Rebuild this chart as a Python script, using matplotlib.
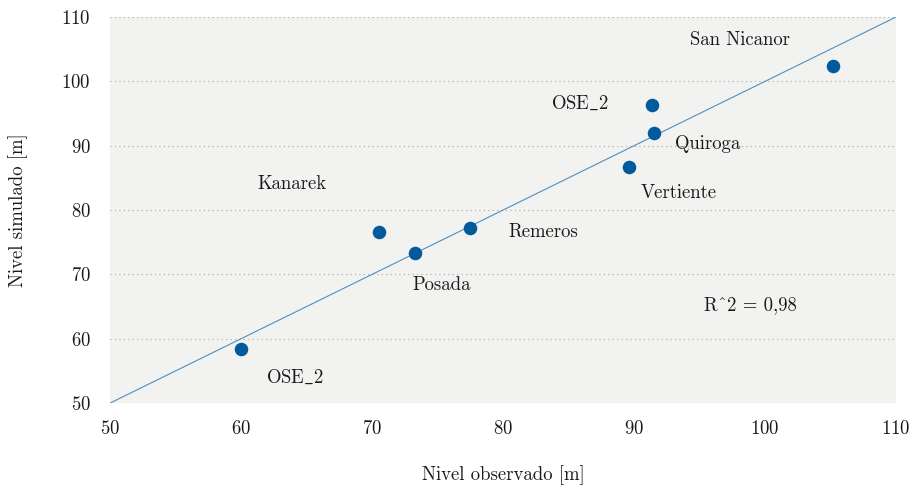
import matplotlib
matplotlib.use("Agg")
import matplotlib.pyplot as plt

plt.rcParams['font.family'] = ['cmr10', 'DejaVu Serif']
plt.rcParams['mathtext.fontset'] = 'cm'
plt.rcParams['axes.formatter.use_mathtext'] = True

# observed vs simulated levels [m]
observado = [60.0, 70.5, 73.3, 77.5, 89.6, 91.5, 91.4, 105.2]
simulado = [58.4, 76.6, 73.3, 77.2, 86.7, 92.0, 96.3, 102.4]

# label text and where it sits
etiquetas = ['OSE$\\_$2', 'Kanarek', 'Posada', 'Remeros', 'Vertiente', 'Quiroga', 'OSE$\\_$2', 'San Nicanor']
etiq_x = [64.1, 63.9, 75.3, 83.1, 93.4, 95.6, 85.9, 98.1]
etiq_y = [54.0, 84.1, 68.3, 76.6, 82.6, 90.3, 96.5, 106.4]

r2_texto = 'R^2 = 0,98'
r2_pos = (98.9, 65.2)

linea = [50, 110]

fs = 13.5

fig = plt.figure(figsize=(9.17, 4.88), dpi=100)
ax = fig.add_axes([0.12, 0.174, 0.857, 0.791])
ax.set_facecolor('#f2f2f1')

for s in ax.spines.values():
    s.set_visible(False)

ax.yaxis.grid(True, linestyle=(0, (1, 3)), color='#a8a8a8', linewidth=0.8)
ax.set_axisbelow(True)

ax.plot(linea, linea, color='#4f8fc0', linewidth=0.8, zorder=2)
ax.scatter(observado, simulado, s=95, color='#005a9c', zorder=3, linewidths=0)

for t, x, y in zip(etiquetas, etiq_x, etiq_y):
    ax.text(x, y, t, ha='center', va='center', fontsize=fs, color='#1a1a1a')
ax.text(r2_pos[0], r2_pos[1], r2_texto, ha='center', va='center', fontsize=fs, color='#1a1a1a')

ax.set_xlim(50, 110)
ax.set_ylim(50, 110)
ax.set_xticks(range(50, 111, 10))
ax.set_yticks(range(50, 111, 10))
ax.tick_params(length=0, labelsize=fs, colors='#1a1a1a')
ax.tick_params(axis='x', pad=12)
ax.tick_params(axis='y', pad=14)

ax.set_xlabel('Nivel observado [m]', fontsize=fs, labelpad=20, color='#1a1a1a')
ax.set_ylabel('Nivel simulado [m]', fontsize=fs, labelpad=24, color='#1a1a1a')

fig.savefig('out.png', dpi=100)
